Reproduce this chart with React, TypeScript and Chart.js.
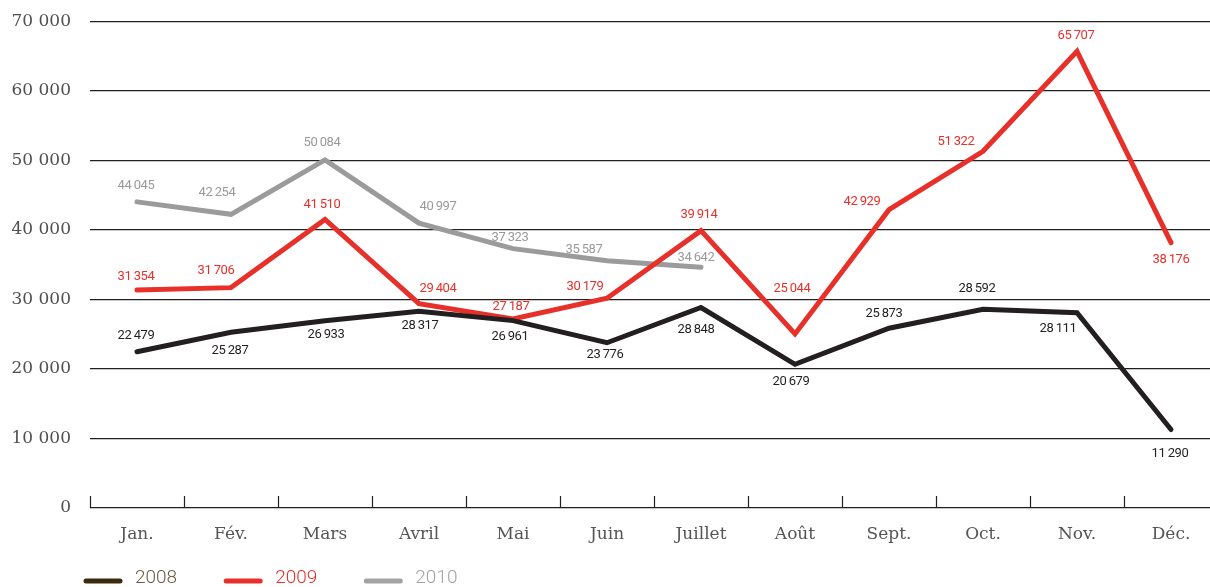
import React, { useEffect, useRef } from "react";
import { Chart, registerables } from "chart.js";

Chart.register(...registerables);

const MONTHS = ["Jan.", "Fév.", "Mars", "Avril", "Mai", "Juin", "Juillet", "Août", "Sept.", "Oct.", "Nov.", "Déc."];
const SERIES_LABELS = ["2008", "2009", "2010"];
const VALUES_2008 = [22479, 25287, 26933, 28317, 26961, 23776, 28848, 20679, 25873, 28592, 28111, 11290];
const VALUES_2009 = [31354, 31706, 41510, 29404, 27187, 30179, 39914, 25044, 42929, 51322, 65707, 38176];
const VALUES_2010 = [44045, 42254, 50084, 40997, 37323, 35587, 34642];
const Y_TICKS = [0, 10000, 20000, 30000, 40000, 50000, 60000, 70000];

// label offsets relative to each point (style only)
const LABEL_OFFSETS_2008 = [[-1, -16], [-1, 18], [1, 14], [1, 15], [-3, 16], [-2, 12], [-5, 22], [-4, 17], [-5, -14], [-6, -21], [-19, 16], [-1, 24]];
const LABEL_OFFSETS_2009 = [[-1, -13], [-15, -17], [-3, -15], [19, -15], [-2, -12], [-22, -12], [-2, -16], [-3, -45], [-27, -8], [-27, -10], [-1, -16], [0, 17]];
const LABEL_OFFSETS_2010 = [[-1, -16], [-14, -22], [-3, -17], [19, -16], [-3, -11], [-23, -11], [-5, -9]];

const COLORS = ["#231f20", "#e8302a", "#9b9b9d"];
const LABEL_COLORS = ["#231f20", "#e8302a", "#9a9a9c"];
const LEGEND_LINE_COLORS = ["#3b2a0e", "#e8302a", "#a3a3a5"];
const LEGEND_TEXT_COLORS = ["#6a5a42", "#e8302a", "#a3a3a5"];

const fmt = (v: number, sep: string) => {
  const s = Math.round(v).toString();
  return s.replace(/\B(?=(\d{3})+(?!\d))/g, sep);
};

const OFFSETS = [LABEL_OFFSETS_2008, LABEL_OFFSETS_2009, LABEL_OFFSETS_2010];

const decorPlugin = {
  id: "decor",
  beforeDatasetsDraw(chart: any) {
    const ctx = chart.ctx;
    const xs = chart.scales.x;
    const bottom = chart.chartArea.bottom;
    const step = xs.getPixelForValue(1) - xs.getPixelForValue(0);
    ctx.save();
    ctx.strokeStyle = "#231f20";
    ctx.lineWidth = 1.2;
    for (let i = 0; i <= MONTHS.length; i++) {
      const x = Math.round(xs.getPixelForValue(i) - step / 2) + 0.5;
      ctx.beginPath();
      ctx.moveTo(x, bottom - 12);
      ctx.lineTo(x, bottom);
      ctx.stroke();
    }
    ctx.restore();
  },
  afterDatasetsDraw(chart: any) {
    const ctx = chart.ctx;
    ctx.save();
    ctx.font = "13px Roboto";
    (ctx as any).letterSpacing = "-0.4px";
    ctx.textAlign = "center";
    ctx.textBaseline = "middle";
    chart.data.datasets.forEach((ds: any, di: number) => {
      const meta = chart.getDatasetMeta(di);
      ctx.fillStyle = LABEL_COLORS[di];
      meta.data.forEach((pt: any, i: number) => {
        const off = OFFSETS[di][i] || [0, -15];
        ctx.fillText(fmt(ds.data[i], "\u2009"), pt.x + off[0], pt.y + off[1]);
      });
    });
    ctx.restore();
  },
  afterDraw(chart: any) {
    const ctx = chart.ctx;
    ctx.save();
    ctx.font = "300 19px Roboto";
    ctx.textBaseline = "middle";
    ctx.textAlign = "left";
    let x = 84;
    const lineY = 581;
    const textY = 578;
    chart.data.datasets.forEach((ds: any, di: number) => {
      ctx.strokeStyle = LEGEND_LINE_COLORS[di];
      ctx.lineWidth = 5;
      ctx.lineCap = "round";
      ctx.beginPath();
      ctx.moveTo(x + 2, lineY);
      ctx.lineTo(x + 36, lineY);
      ctx.stroke();
      ctx.fillStyle = LEGEND_TEXT_COLORS[di];
      const tx = x + 38 + 13;
      ctx.fillText(ds.label, tx, textY);
      x = tx + ctx.measureText(ds.label).width + 47;
    });
    ctx.restore();
  },
};

export default function App() {
  const ref = useRef<HTMLCanvasElement | null>(null);
  useEffect(() => {
    if (!ref.current) return;
    const axisFont = { family: "'DejaVu Serif'", size: 17 };
    const chart = new Chart(ref.current, {
      type: "line",
      data: {
        labels: MONTHS,
        datasets: [VALUES_2008, VALUES_2009, VALUES_2010].map((vals, i) => ({
          label: SERIES_LABELS[i],
          data: vals,
          borderColor: COLORS[i],
          backgroundColor: COLORS[i],
          borderWidth: 5,
          borderJoinStyle: "miter" as const,
          borderCapStyle: "round" as const,
          pointRadius: 0,
          pointHoverRadius: 0,
          tension: 0,
          fill: false,
        })),
      },
      options: {
        responsive: false,
        animation: false,
        layout: { padding: { top: 21.5, right: 12, left: 0, bottom: 0 } },
        plugins: { legend: { display: false }, tooltip: { enabled: false } },
        scales: {
          x: {
            offset: true,
            grid: { display: false, drawTicks: false },
            border: { display: false },
            ticks: { font: axisFont, color: "#555555", padding: 16, maxRotation: 0, autoSkip: false },
            afterFit: (s: any) => {
              s.height = 79;
            },
          },
          y: {
            min: 0,
            max: 70000,
            afterBuildTicks: (s: any) => {
              s.ticks = Y_TICKS.map((v) => ({ value: v }));
            },
            ticks: {
              font: axisFont,
              color: "#505050",
              padding: 19,
              callback: (v: any) => fmt(Number(v), " "),
            },
            grid: { color: "#231f20", lineWidth: 1.2, drawTicks: false },
            border: { display: false },
            afterFit: (s: any) => {
              s.width = 90;
              s.paddingTop = 0;
              s.paddingBottom = 0;
            },
          },
        },
      },
      plugins: [decorPlugin],
    });
    return () => chart.destroy();
  }, []);
  return (
    <div style={{ position: "fixed", left: 0, top: 0, width: 1210, height: 587, overflow: "hidden", background: "#fff" }}>
      <canvas ref={ref} width={1230} height={587} style={{ display: "block" }} />
    </div>
  );
}
